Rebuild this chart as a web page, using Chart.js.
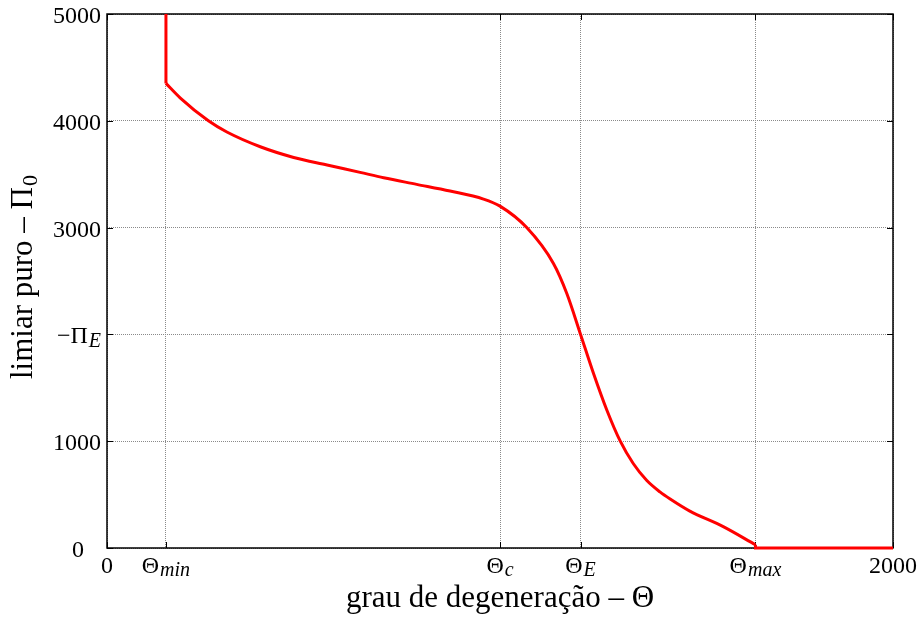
<!DOCTYPE html>
<html>
<head>
<meta charset="utf-8">
<script src="https://cdn.jsdelivr.net/npm/chart.js@4"></script>
<style>
  html, body { margin: 0; padding: 0; background: #fff; }
  #wrap { width: 921px; height: 621px; }
</style>
</head>
<body>
<div id="wrap"><canvas id="grauChart" width="921" height="621"></canvas></div>
<script>
// x ticks: grau de degeneração
const thetaTicks = [0, 150, 1000, 1205, 1650, 2000]
const thetaTickMain = ['0', 'Θ', 'Θ', 'Θ', 'Θ', '2000']
const thetaTickSub = ['', 'min', 'c', 'E', 'max', '']

// y ticks: limiar puro
const piTicks = [0, 1000, 2000, 3000, 4000, 5000]
const piTickMain = ['0', '1000', '−Π', '3000', '4000', '5000']
const piTickSub = ['', '', 'E', '', '', '']

// vertical wall at theta min
const wallTheta = [150, 150]
const wallPi = [5000, 4350]

// main curve
const curveTheta = [150, 186, 258, 305, 390, 475, 560, 644, 704, 788, 873, 958, 1000, 1068, 1136, 1170, 1205, 1238, 1272, 1306, 1339, 1373, 1407, 1433, 1483, 1568, 1650]
const curvePi = [4350, 4215, 4000, 3895, 3757, 3657, 3586, 3517, 3467, 3405, 3342, 3267, 3201, 3000, 2664, 2383, 2000, 1634, 1290, 1000, 791, 634, 525, 458, 345, 200, 30]

// after theta max
const tailTheta = [1650, 1650, 2000]
const tailPi = [30, 0, 0]

const serif = '"Liberation Serif", "DejaVu Serif", serif'
const tickSize = 24
const titleSize = 31
const subSize = 20

function pts(xs, ys) {
    return xs.map((x, i) => ({ x: x, y: ys[i] }))
}

// draws "main" + subscript (italic for letters), anchored by align
function drawLabel(c, main, sub, x, y, align, size, sSize, subDrop) {
    const subFont = (/^[0-9]+$/.test(sub) ? '' : 'italic ') + sSize + 'px ' + serif
    c.font = size + 'px ' + serif
    const wMain = c.measureText(main).width
    c.font = subFont
    const wSub = sub ? c.measureText(sub).width + 1 : 0
    const total = wMain + wSub
    let left = x
    if (align === 'center') left = x - total / 2
    if (align === 'right') left = x - total
    c.textAlign = 'left'
    c.textBaseline = 'alphabetic'
    c.font = size + 'px ' + serif
    c.fillText(main, left, y)
    if (sub) {
        c.font = subFont
        c.fillText(sub, left + wMain + 1, y + subDrop)
    }
}

const framePlugin = {
    id: 'frame',
    beforeDatasetsDraw(chart) {
        const c = chart.ctx
        const a = chart.chartArea
        const sx = chart.scales.x
        const sy = chart.scales.y
        const tl = 6
        c.save()
        c.strokeStyle = '#000'
        c.lineWidth = 1.5
        c.strokeRect(a.left, a.top, a.right - a.left, a.bottom - a.top)
        c.lineWidth = 1
        c.beginPath()
        thetaTicks.forEach(v => {
            const px = Math.round(sx.getPixelForValue(v)) + 0.5
            c.moveTo(px, a.bottom); c.lineTo(px, a.bottom - tl)
            c.moveTo(px, a.top); c.lineTo(px, a.top + tl)
        })
        piTicks.forEach(v => {
            const py = Math.round(sy.getPixelForValue(v)) + 0.5
            c.moveTo(a.left, py); c.lineTo(a.left + tl, py)
            c.moveTo(a.right, py); c.lineTo(a.right - tl, py)
        })
        c.stroke()
        c.restore()
    },
    afterDraw(chart) {
        const c = chart.ctx
        const a = chart.chartArea
        const sx = chart.scales.x
        const sy = chart.scales.y
        c.save()
        c.fillStyle = '#000'
        // x tick labels
        thetaTicks.forEach((v, i) => {
            drawLabel(c, thetaTickMain[i], thetaTickSub[i], sx.getPixelForValue(v), a.bottom + 25, 'center', tickSize, subSize, 3)
        })
        // y tick labels (the zero sits further left in the original)
        piTicks.forEach((v, i) => {
            const right = v === 0 ? a.left - 23 : a.left - 6
            drawLabel(c, piTickMain[i], piTickSub[i], right, sy.getPixelForValue(v) + 9, 'right', tickSize, subSize, 4)
        })
        // x title
        c.font = titleSize + 'px ' + serif
        c.textAlign = 'center'
        c.textBaseline = 'alphabetic'
        c.fillText('grau de degeneração – Θ', (a.left + a.right) / 2, 607)
        // y title, rotated
        c.translate(32, (a.top + a.bottom) / 2 - 4)
        c.rotate(-Math.PI / 2)
        drawLabel(c, 'limiar puro – Π', '0', 0, 0, 'center', titleSize, 22, 5)
        c.restore()
    }
}

const lineStyle = {
    borderColor: '#ff0000',
    backgroundColor: '#ff0000',
    borderWidth: 3,
    pointRadius: 0,
    fill: false,
    clip: false
}

const grauChart = new Chart(
    document.getElementById('grauChart'),
    {
        type: 'line',
        data: {
            datasets: [
                Object.assign({ data: pts(wallTheta, wallPi), tension: 0 }, lineStyle),
                Object.assign({ data: pts(curveTheta, curvePi), cubicInterpolationMode: 'monotone' }, lineStyle),
                Object.assign({ data: pts(tailTheta, tailPi), tension: 0 }, lineStyle)
            ]
        },
        options: {
            responsive: false,
            animation: false,
            events: [],
            layout: { padding: { left: 107, right: 28, top: 14, bottom: 73 } },
            plugins: {
                legend: { display: false },
                tooltip: { enabled: false }
            },
            scales: {
                x: {
                    type: 'linear',
                    min: 0,
                    max: 2000,
                    afterBuildTicks: s => { s.ticks = thetaTicks.map(v => ({ value: v })) },
                    afterFit: s => { s.height = 0 },
                    ticks: { display: false },
                    grid: { color: '#8a8a8a', lineWidth: 1, drawTicks: false },
                    border: { display: false, dash: [1, 1] }
                },
                y: {
                    type: 'linear',
                    min: 0,
                    max: 5000,
                    afterBuildTicks: s => { s.ticks = piTicks.map(v => ({ value: v })) },
                    afterFit: s => { s.width = 0 },
                    ticks: { display: false },
                    grid: { color: '#8a8a8a', lineWidth: 1, drawTicks: false },
                    border: { display: false, dash: [1, 1] }
                }
            }
        },
        plugins: [framePlugin]
    })
</script>
</body>
</html>
